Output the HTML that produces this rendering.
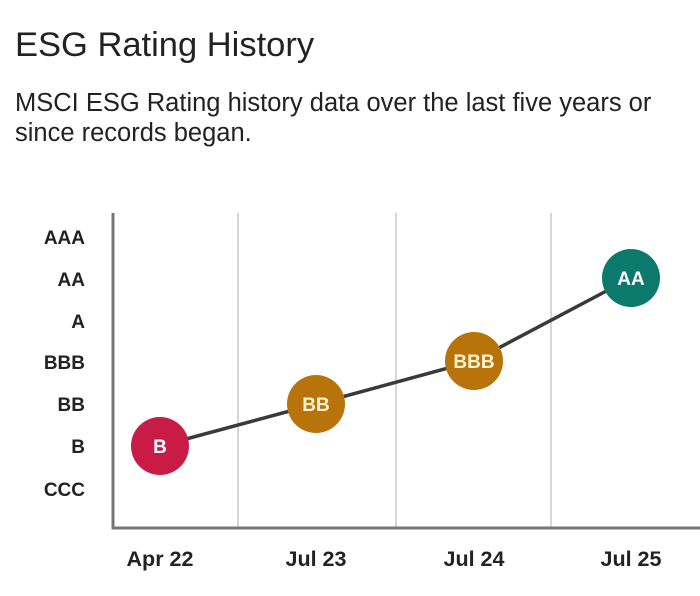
<!DOCTYPE html>
<html><head><style>
body{margin:0;width:700px;height:591px;background:#fff;overflow:hidden;font-family:"Liberation Sans",sans-serif;}
</style></head><body>
<svg width="700" height="591" xmlns="http://www.w3.org/2000/svg" font-family="Liberation Sans, sans-serif">
<text x="15" y="56" font-size="34.5" fill="#222">ESG Rating History</text>
<text x="15" y="111" font-size="25.5" fill="#222">MSCI ESG Rating history data over the last five years or</text>
<text x="15" y="141" font-size="25.5" fill="#222">since records began.</text>
<g stroke="#c8c8c8" stroke-width="1.5">
<line x1="238" y1="213" x2="238" y2="528"/>
<line x1="396" y1="213" x2="396" y2="528"/>
<line x1="551" y1="213" x2="551" y2="528"/>
</g>
<line x1="113" y1="213" x2="113" y2="529" stroke="#777" stroke-width="3"/>
<line x1="112" y1="528" x2="700" y2="528" stroke="#777" stroke-width="3"/>
<g font-size="19" font-weight="bold" fill="#222" text-anchor="end">
<text x="85" y="244">AAA</text><text x="85" y="286">AA</text><text x="85" y="328">A</text>
<text x="85" y="369">BBB</text><text x="85" y="411">BB</text><text x="85" y="453">B</text><text x="85" y="496">CCC</text>
</g>
<polyline points="160,446 316,404 474,361 631,278" fill="none" stroke="#3a3a3a" stroke-width="3.5"/>
<g font-size="19" font-weight="bold" fill="#fff" text-anchor="middle">
<circle cx="160" cy="446" r="29" fill="#c81c46"/><text x="160" y="453">B</text>
<circle cx="316" cy="404" r="29" fill="#b8740b"/><text x="316" y="411" fill="#fff3d0">BB</text>
<circle cx="474" cy="361" r="29" fill="#b8740b"/><text x="474" y="368" fill="#fff3d0">BBB</text>
<circle cx="631" cy="278" r="29" fill="#0b7a6c"/><text x="631" y="285">AA</text>
</g>
<g font-size="21.5" font-weight="bold" fill="#222" text-anchor="middle">
<text x="160" y="566">Apr 22</text><text x="316" y="566">Jul 23</text>
<text x="474" y="566">Jul 24</text><text x="631" y="566">Jul 25</text>
</g>
</svg>
</body></html>
